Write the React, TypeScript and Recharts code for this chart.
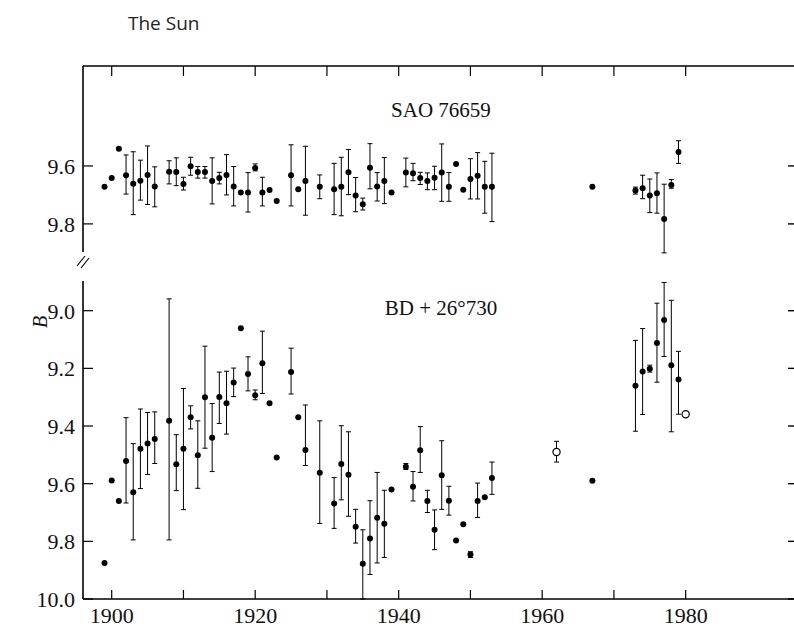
import { ScatterChart, Scatter, XAxis, YAxis, ErrorBar } from 'recharts'

// SAO 76659 (upper panel)
const saoYears = [1899, 1900, 1901, 1902, 1903, 1904, 1905, 1906, 1908, 1909, 1910, 1911, 1912, 1913, 1914, 1915, 1916, 1917, 1918, 1919, 1920, 1921, 1922, 1923, 1925, 1926, 1927, 1929, 1931, 1932, 1933, 1934, 1935, 1936, 1937, 1938, 1939, 1941, 1942, 1943, 1944, 1945, 1946, 1947, 1948, 1949, 1950, 1951, 1952, 1953, 1967, 1973, 1974, 1975, 1976, 1977, 1978, 1979]
const saoMag = [9.672, 9.642, 9.541, 9.632, 9.661, 9.651, 9.631, 9.671, 9.62, 9.621, 9.662, 9.601, 9.621, 9.621, 9.652, 9.642, 9.631, 9.671, 9.692, 9.692, 9.607, 9.692, 9.683, 9.721, 9.632, 9.68, 9.652, 9.672, 9.68, 9.672, 9.622, 9.702, 9.732, 9.606, 9.671, 9.652, 9.692, 9.623, 9.625, 9.642, 9.652, 9.641, 9.623, 9.672, 9.593, 9.682, 9.645, 9.634, 9.672, 9.672, 9.672, 9.685, 9.677, 9.702, 9.694, 9.783, 9.666, 9.552]
const saoLo = [null, null, null, 9.562, 9.551, 9.58, 9.531, 9.603, 9.582, 9.572, 9.639, 9.57, 9.602, 9.602, 9.572, 9.622, 9.561, 9.602, null, 9.623, 9.593, 9.639, null, null, 9.527, null, 9.532, 9.631, 9.591, 9.57, 9.543, 9.64, 9.711, 9.523, 9.623, 9.571, null, 9.573, 9.591, 9.622, 9.624, 9.601, 9.524, 9.623, null, null, 9.575, 9.554, 9.584, 9.556, null, 9.673, 9.632, 9.645, 9.624, 9.663, 9.647, 9.513]
const saoHi = [null, null, null, 9.697, 9.768, 9.718, 9.733, 9.741, 9.662, 9.668, 9.683, 9.632, 9.642, 9.642, 9.731, 9.662, 9.7, 9.738, null, 9.759, 9.617, 9.738, null, null, 9.738, null, 9.77, 9.713, 9.768, 9.772, 9.699, 9.758, 9.752, 9.679, 9.721, 9.73, null, 9.672, 9.651, 9.664, 9.682, 9.682, 9.722, 9.722, null, null, 9.714, 9.714, 9.763, 9.792, null, 9.697, 9.713, 9.761, 9.763, 9.9, 9.677, 9.591]

// BD + 26°730 (lower panel), filled circles
const bdYears = [1899, 1900, 1901, 1902, 1903, 1904, 1905, 1906, 1908, 1909, 1910, 1911, 1912, 1913, 1914, 1915, 1916, 1917, 1918, 1919, 1920, 1921, 1922, 1923, 1925, 1926, 1927, 1929, 1931, 1932, 1933, 1934, 1935, 1936, 1937, 1938, 1939, 1941, 1942, 1943, 1944, 1945, 1946, 1947, 1948, 1949, 1950, 1951, 1952, 1953, 1967, 1973, 1974, 1975, 1976, 1977, 1978, 1979]
const bdMag = [9.875, 9.589, 9.66, 9.521, 9.63, 9.479, 9.461, 9.445, 9.382, 9.533, 9.479, 9.37, 9.501, 9.3, 9.441, 9.299, 9.321, 9.249, 9.061, 9.22, 9.293, 9.182, 9.321, 9.509, 9.213, 9.37, 9.483, 9.562, 9.669, 9.532, 9.569, 9.749, 9.878, 9.79, 9.718, 9.739, 9.62, 9.541, 9.611, 9.484, 9.66, 9.76, 9.571, 9.659, 9.797, 9.741, 9.846, 9.66, 9.647, 9.58, 9.59, 9.26, 9.211, 9.201, 9.112, 9.032, 9.189, 9.239]
const bdLo = [null, null, null, 9.371, 9.461, 9.341, 9.353, 9.351, 8.959, 9.43, 9.27, 9.33, 9.382, 9.123, 9.322, 9.213, 9.21, 9.199, null, 9.16, 9.275, 9.071, null, null, 9.13, null, 9.327, 9.382, 9.579, 9.399, 9.42, 9.689, 9.76, 9.659, 9.561, 9.623, null, 9.53, 9.558, 9.402, 9.623, 9.691, 9.451, 9.609, null, null, 9.836, 9.598, null, 9.525, null, 9.103, 9.062, 9.189, 8.974, 8.902, 8.964, 9.141]
const bdHi = [null, null, null, 9.667, 9.795, 9.617, 9.568, 9.53, 9.795, 9.624, 9.69, 9.41, 9.616, 9.477, 9.558, 9.391, 9.428, 9.298, null, 9.278, 9.309, 9.287, null, null, 9.289, null, 9.537, 9.738, 9.755, 9.656, 9.713, 9.806, 10.0, 9.915, 9.875, 9.856, null, 9.551, 9.66, 9.561, 9.7, 9.829, 9.689, 9.709, null, null, 9.856, 9.717, null, 9.637, null, 9.418, 9.36, 9.213, 9.248, 9.159, 9.42, 9.359]

// BD + 26°730, open circles
const bdOpenYears = [1962, 1980]
const bdOpenMag = [9.49, 9.359]
const bdOpenLo = [9.453, null]
const bdOpenHi = [9.525, null]

const yearTicks = [1900, 1910, 1920, 1930, 1940, 1950, 1960, 1970, 1980]
const saoTicks = [9.6, 9.8]
const bdTicks = [9.0, 9.2, 9.4, 9.6, 9.8, 10.0]

const X_DOMAIN = [1896, 1995.1]
const SAO_DOMAIN = [9.255, 9.897]
const BD_DOMAIN = [8.897, 10.0]

const SERIF = '"Liberation Serif", "Times New Roman", serif'
const W = 794
const RIGHT = 794

type Row = { x: number; y: number; err?: [number, number] }

function rows(years: number[], mag: number[], lo: (number | null)[], hi: (number | null)[]) {
  const withErr: Row[] = []
  const plain: Row[] = []
  years.forEach((yr, i) => {
    const l = lo[i]
    const h = hi[i]
    if (l != null && h != null) withErr.push({ x: yr, y: mag[i], err: [mag[i] - l, h - mag[i]] })
    else plain.push({ x: yr, y: mag[i] })
  })
  return { withErr, plain }
}

const sao = rows(saoYears, saoMag, saoLo, saoHi)
const bd = rows(bdYears, bdMag, bdLo, bdHi)
const bdOpen = rows(bdOpenYears, bdOpenMag, bdOpenLo, bdOpenHi)

const Dot = (p: any) => <circle cx={p.cx} cy={p.cy} r={3} fill="#000" />
const OpenDot = (p: any) => <circle cx={p.cx} cy={p.cy} r={3.6} fill="#fff" stroke="#000" strokeWidth={1.2} />

// left ticks point inward, label sits outside; the frame's right edge gets a short inward tick too
const YTick = ({ x, y, payload }: any) => (
  <g>
    <line x1={x} x2={x + 10} y1={y} y2={y} stroke="#000" strokeWidth={1.2} />
    <line x1={RIGHT - 6} x2={RIGHT} y1={y} y2={y} stroke="#000" strokeWidth={1.4} />
    <text x={x - 8} y={y + 8} textAnchor="end" fontFamily={SERIF} fontSize={22} fill="#111">
      {Number(payload.value).toFixed(1)}
    </text>
  </g>
)

const TopTick = ({ x, y }: any) => <line x1={x} x2={x} y1={y} y2={y + 10} stroke="#000" strokeWidth={1.2} />

const BottomTick = ({ x, y, payload }: any) => (
  <g>
    <line x1={x} x2={x} y1={y} y2={y - 9} stroke="#000" strokeWidth={1.2} />
    {payload.value % 20 === 0 && (
      <text x={x} y={y + 24} textAnchor="middle" fontFamily={SERIF} fontSize={22} fill="#111">
        {payload.value}
      </text>
    )}
  </g>
)

const axisLine = { stroke: '#000', strokeWidth: 1.6 }

export default function App() {
  return (
    <div style={{ position: 'absolute', left: 0, top: 0, width: W, height: 627, background: '#fff' }}>
      <div style={{ position: 'absolute', left: 0, top: 0 }}>
        <ScatterChart width={W} height={260} margin={{ top: 46, right: 0, bottom: 8, left: 23 }}>
          <XAxis
            type="number"
            dataKey="x"
            orientation="top"
            height={20}
            domain={X_DOMAIN}
            allowDataOverflow
            ticks={yearTicks}
            interval={0}
            tickSize={0}
            tickMargin={0}
            tickLine={false}
            axisLine={axisLine}
            tick={<TopTick />}
          />
          <YAxis
            type="number"
            dataKey="y"
            width={60}
            reversed
            domain={SAO_DOMAIN}
            allowDataOverflow
            ticks={saoTicks}
            interval={0}
            tickSize={0}
            tickMargin={0}
            tickLine={false}
            axisLine={axisLine}
            tick={<YTick />}
          />
          <Scatter data={sao.withErr} shape={Dot} isAnimationActive={false}>
            <ErrorBar dataKey="err" direction="y" width={2.5} stroke="#000" strokeWidth={1} isAnimationActive={false} />
          </Scatter>
          <Scatter data={sao.plain} shape={Dot} isAnimationActive={false} />
        </ScatterChart>
      </div>
      <div style={{ position: 'absolute', left: 0, top: 260 }}>
        <ScatterChart width={W} height={367} margin={{ top: 21, right: 0, bottom: 0, left: 23 }}>
          <XAxis
            type="number"
            dataKey="x"
            height={28}
            domain={X_DOMAIN}
            allowDataOverflow
            ticks={yearTicks}
            interval={0}
            tickSize={0}
            tickMargin={0}
            tickLine={false}
            axisLine={axisLine}
            tick={<BottomTick />}
          />
          <YAxis
            type="number"
            dataKey="y"
            width={60}
            reversed
            domain={BD_DOMAIN}
            allowDataOverflow
            ticks={bdTicks}
            interval={0}
            tickSize={0}
            tickMargin={0}
            tickLine={false}
            axisLine={axisLine}
            tick={<YTick />}
          />
          <Scatter data={bd.withErr} shape={Dot} isAnimationActive={false}>
            <ErrorBar dataKey="err" direction="y" width={2.5} stroke="#000" strokeWidth={1} isAnimationActive={false} />
          </Scatter>
          <Scatter data={bd.plain} shape={Dot} isAnimationActive={false} />
          <Scatter data={bdOpen.withErr} shape={OpenDot} isAnimationActive={false}>
            <ErrorBar dataKey="err" direction="y" width={2.5} stroke="#000" strokeWidth={1} isAnimationActive={false} />
          </Scatter>
          <Scatter data={bdOpen.plain} shape={OpenDot} isAnimationActive={false} />
        </ScatterChart>
      </div>
      <svg width={W} height={627} style={{ position: 'absolute', left: 0, top: 0, pointerEvents: 'none' }}>
        <text x={128} y={30} fontFamily='"Open Sans", sans-serif' fontSize={19} fill="#222">The Sun</text>
        <text x={441} y={117} textAnchor="middle" fontFamily={SERIF} fontSize={21} fill="#111">SAO 76659</text>
        <text x={441} y={315} textAnchor="middle" fontFamily={SERIF} fontSize={21} fill="#111">BD + 26°730</text>
        <text x={47} y={322} transform="rotate(-90 47 322)" textAnchor="middle" fontFamily={SERIF} fontStyle="italic" fontSize={20} fill="#111">B</text>
        <line x1={77} y1={266} x2={85} y2={256} stroke="#000" strokeWidth={1.2} />
        <line x1={81} y1={268} x2={89} y2={258} stroke="#000" strokeWidth={1.2} />
      </svg>
    </div>
  )
}
